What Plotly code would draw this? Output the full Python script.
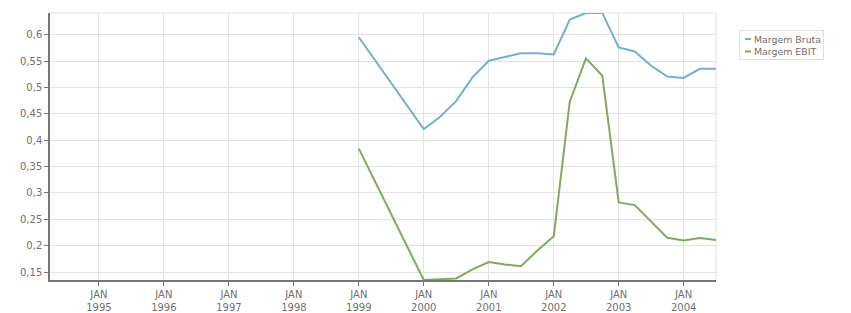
import plotly.graph_objects as go

dates_bruta = ["1999-01-01", "2000-01-01", "2000-04-01", "2000-07-01", "2000-10-01",
               "2001-01-01", "2001-04-01", "2001-07-01", "2001-10-01",
               "2002-01-01", "2002-04-01", "2002-07-01", "2002-10-01",
               "2003-01-01", "2003-04-01", "2003-07-01", "2003-10-01",
               "2004-01-01", "2004-04-01", "2004-07-01"]
margem_bruta = [0.595, 0.421, 0.444, 0.474, 0.519,
                0.5505, 0.5575, 0.5645, 0.5645,
                0.5625, 0.6286, 0.641, 0.641,
                0.5756, 0.568, 0.5415, 0.5205,
                0.518, 0.5352, 0.5352]
margem_ebit = [0.384, 0.135, 0.1365, 0.138, 0.155,
               0.169, 0.1645, 0.161, 0.191,
               0.218, 0.473, 0.555, 0.522,
               0.282, 0.277, 0.247, 0.215,
               0.210, 0.2146, 0.211]
series_names = ["Margem Bruta", "Margem EBIT"]
series_colors = ["#74aed3", "#80ab5d"]

tick_dates = ["%d-01-01" % y for y in range(1995, 2005)]
tick_labels = ["JAN<br>%d" % y for y in range(1995, 2005)]
y_ticks = [0.15, 0.2, 0.25, 0.3, 0.35, 0.4, 0.45, 0.5, 0.55, 0.6]

W, H = 851, 313
L, R, T, B = 50, 135, 13, 33
pw, ph = W - L - R, H - T - B

def px(x):
    return (x - L) / pw

def py(y):
    return 1 - (y - T) / ph

fig = go.Figure()
for vals, name, col in zip([margem_bruta, margem_ebit], series_names, series_colors):
    fig.add_trace(go.Scatter(x=dates_bruta, y=vals, mode="lines", name=name,
                             line=dict(color=col, width=2), showlegend=False))

fnt = dict(family="DejaVu Sans", size=10, color="#707070")

shapes = [
    dict(type="line", xref="paper", yref="paper", x0=0, x1=1, y0=1, y1=1,
         line=dict(color="#e3e3e3", width=1), layer="below"),
    dict(type="line", xref="paper", yref="paper", x0=1, x1=1, y0=0, y1=1,
         line=dict(color="#e3e3e3", width=1), layer="below"),
    dict(type="rect", xref="paper", yref="paper", x0=px(739.5), x1=px(823.5),
         y0=py(59.5), y1=py(30.5), line=dict(color="#dddddd", width=1)),
]
annotations = []
for i, (name, col) in enumerate(zip(series_names, series_colors)):
    yc = 39 + i * 12.5
    shapes.append(dict(type="line", xref="paper", yref="paper", x0=px(745), x1=px(751),
                       y0=py(yc), y1=py(yc), line=dict(color=col, width=2)))
    annotations.append(dict(x=px(752), y=py(yc), xref="paper", yref="paper", text=name,
                            showarrow=False, xanchor="left", yanchor="middle",
                            font=dict(family="DejaVu Sans", size=9.4, color="#707070")))

fig.update_layout(
    width=W, height=H,
    margin=dict(l=L, r=R, t=T, b=B, autoexpand=False),
    paper_bgcolor="white", plot_bgcolor="white",
    separators=",.",
    font=fnt,
    showlegend=False,
    xaxis=dict(type="date", range=["1994-04-01", "2004-07-01"],
               tickmode="array", tickvals=tick_dates, ticktext=tick_labels,
               showgrid=True, gridcolor="#e3e3e3", gridwidth=1,
               showline=True, linecolor="#777777", linewidth=2,
               ticks="outside", ticklen=4, tickcolor="#777777",
               zeroline=False, tickfont=fnt, automargin=False),
    yaxis=dict(range=[0.135, 0.641], tickmode="array", tickvals=y_ticks,
               showgrid=True, gridcolor="#e3e3e3", gridwidth=1,
               showline=True, linecolor="#777777", linewidth=1.5,
               ticks="outside", ticklen=4, tickcolor="#777777",
               zeroline=False, tickfont=fnt, automargin=False),
    shapes=shapes,
    annotations=annotations,
)
fig.write_html("out.html")
